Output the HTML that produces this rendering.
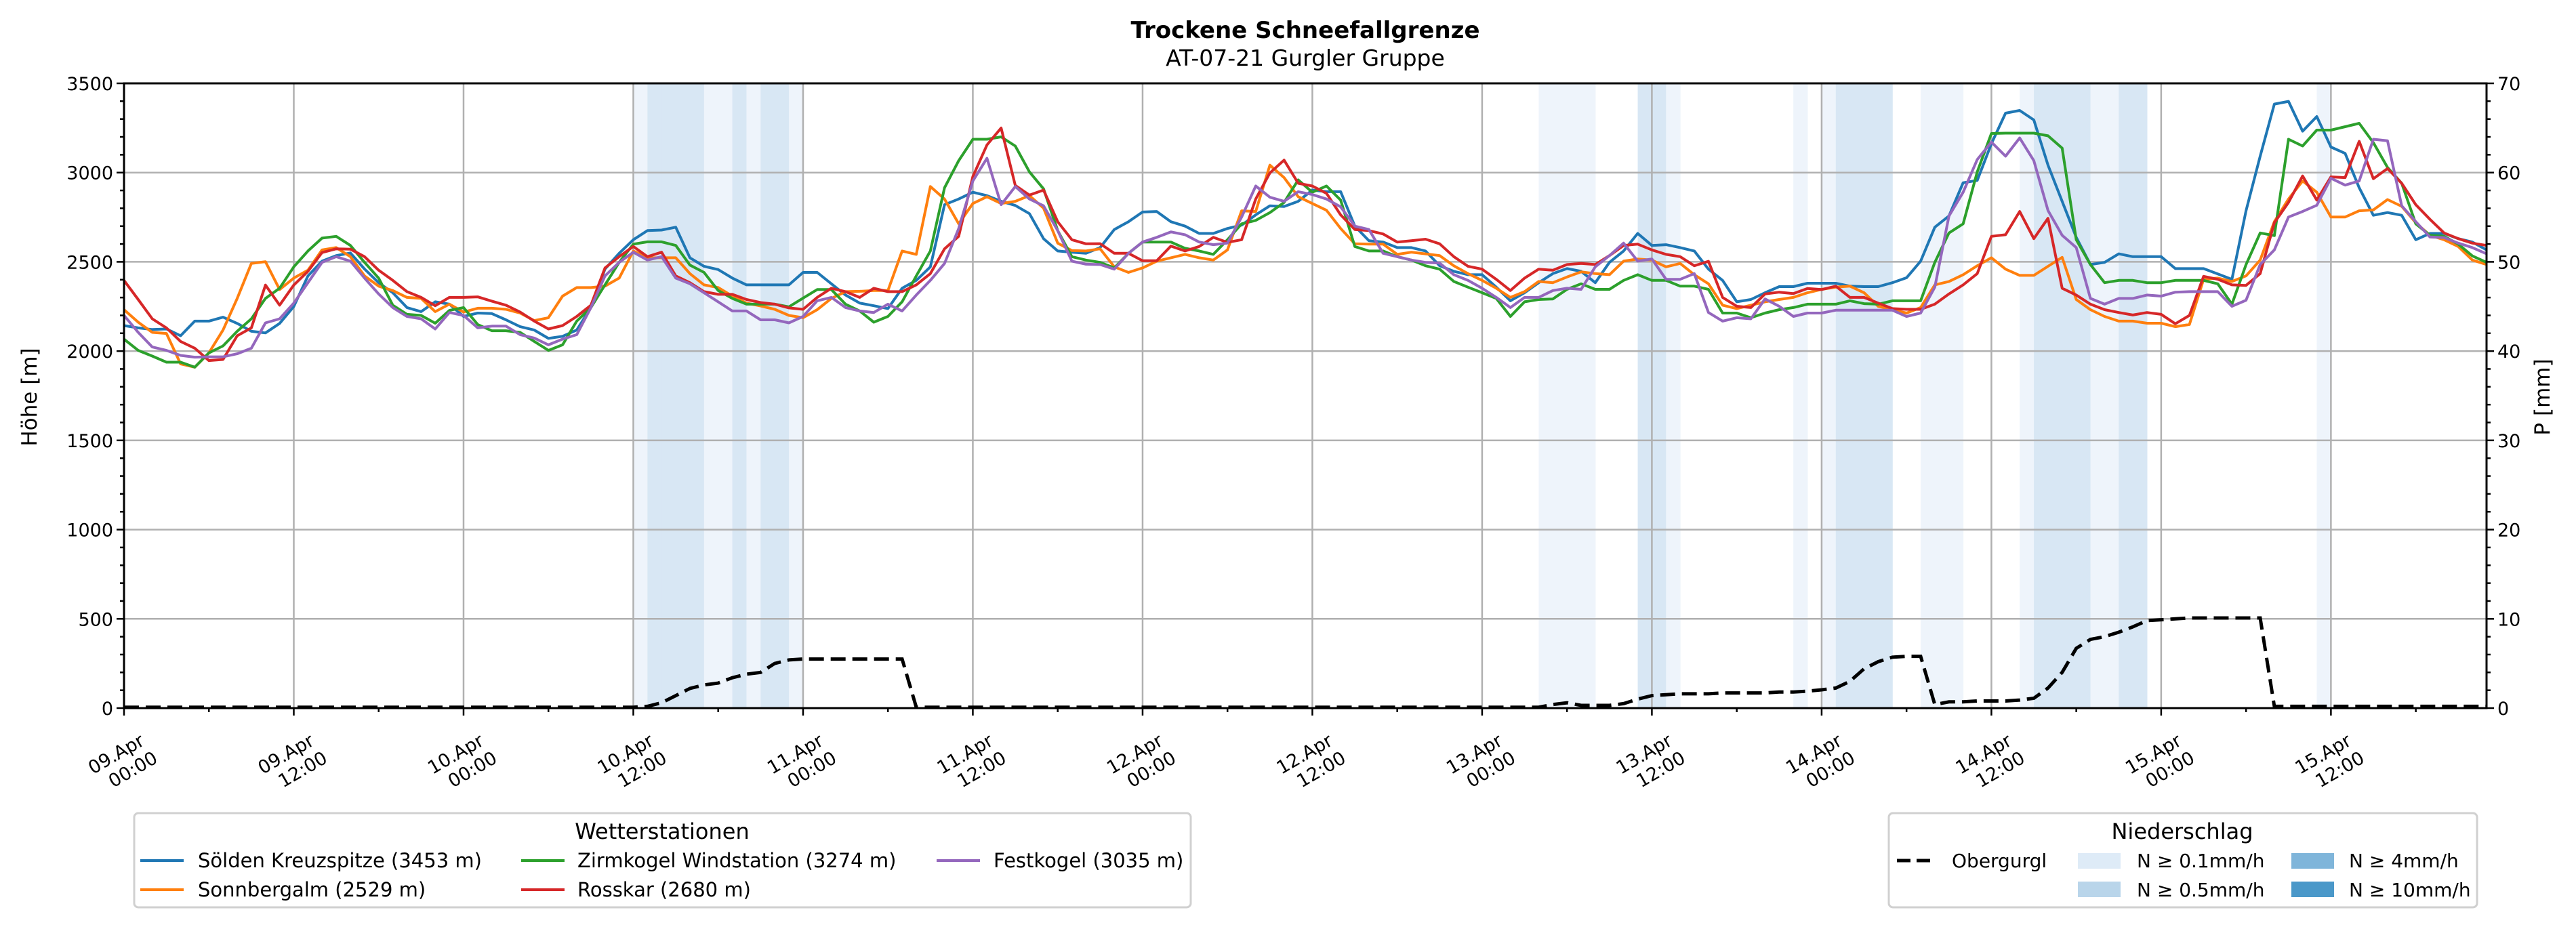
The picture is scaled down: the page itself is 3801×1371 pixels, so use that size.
<!DOCTYPE html>
<html><head><meta charset="utf-8">
<style>
html,body{margin:0;padding:0;background:#fff;}
svg{display:block;font-family:"DejaVu Sans","Liberation Sans",sans-serif;}
</style></head>
<body>
<svg id="chart" width="3801" height="1371" viewBox="0 0 3801 1371" xmlns="http://www.w3.org/2000/svg">
<rect width="3801" height="1371" fill="#fff"/>
<g id="bands"></g>
<g id="grid"></g>
<g id="series"></g>
<g id="axes"></g>
<text x="1926" y="56" font-size="34" font-weight="bold" text-anchor="middle">Trockene Schneefallgrenze</text>
<text x="1926" y="97" font-size="33" text-anchor="middle">AT-07-21 Gurgler Gruppe</text>
<text transform="translate(54,586) rotate(-90)" font-size="31" text-anchor="middle">Höhe [m]</text>
<text transform="translate(3762,586) rotate(-90)" font-size="31" text-anchor="middle">P [mm]</text>

<g>
<rect x="198" y="1200" width="1559" height="139" rx="6" fill="#fff" stroke="#d0d0d0" stroke-width="3"/>
<text x="977" y="1238" font-size="32" text-anchor="middle">Wetterstationen</text>
<g><line x1="207" y1="1270" x2="271" y2="1270" stroke="#1f77b4" stroke-width="4"/><text x="292" y="1280" font-size="29">Sölden Kreuzspitze (3453 m)</text></g>
<g><line x1="207" y1="1313" x2="271" y2="1313" stroke="#ff7f0e" stroke-width="4"/><text x="292" y="1323" font-size="29">Sonnbergalm (2529 m)</text></g>
<g><line x1="769" y1="1270" x2="833" y2="1270" stroke="#2ca02c" stroke-width="4"/><text x="852" y="1280" font-size="29">Zirmkogel Windstation (3274 m)</text></g>
<g><line x1="769" y1="1313" x2="833" y2="1313" stroke="#d62728" stroke-width="4"/><text x="852" y="1323" font-size="29">Rosskar (2680 m)</text></g>
<g><line x1="1382" y1="1270" x2="1446" y2="1270" stroke="#9467bd" stroke-width="4"/><text x="1466" y="1280" font-size="29">Festkogel (3035 m)</text></g>
</g>

<g>
<rect x="2787" y="1200" width="868" height="139" rx="6" fill="#fff" stroke="#d0d0d0" stroke-width="3"/>
<text x="3220" y="1238" font-size="32" text-anchor="middle">Niederschlag</text>
<g><line x1="2799" y1="1270" x2="2857" y2="1270" stroke="#000" stroke-width="5" stroke-dasharray="20,9"/><text x="2880" y="1280" font-size="28">Obergurgl</text></g>
<g><rect x="3066" y="1259" width="63" height="23" fill="#deebf7"/><text x="3153" y="1280" font-size="28">N ≥ 0.1mm/h</text></g>
<g><rect x="3066" y="1301" width="63" height="23" fill="#b9d5ea"/><text x="3153" y="1323" font-size="28">N ≥ 0.5mm/h</text></g>
<g><rect x="3381" y="1259" width="63" height="23" fill="#7fb5da"/><text x="3466" y="1280" font-size="28">N ≥ 4mm/h</text></g>
<g><rect x="3381" y="1301" width="63" height="23" fill="#4a98c9"/><text x="3466" y="1323" font-size="28">N ≥ 10mm/h</text></g>
</g>
</svg>
<script>
const soelden = [2143,2130,2121,2124,2086,2168,2168,2190,2155,2111,2102,2155,2250,2421,2504,2535,2550,2460,2383,2327,2244,2221,2276,2263,2194,2213,2210,2175,2137,
2118,2071,2083,2118,2244,2460,2548,2624,2675,2678,2694,2523,2475,2457,2409,2371,2371,2371,2371,2441,2441,2377,2314,2269,2254,2238,2352,2396,2472,
2820,2852,2890,2871,2839,2816,2770,2630,2561,2554,2548,2580,2681,2725,2779,2782,2725,2700,2659,2659,2687,2706,2763,2814,2810,2839,2902,2893,2893,
2700,2618,2611,2580,2580,2561,2478,2447,2428,2428,2358,2282,2327,2383,2434,2462,2447,2383,2497,2561,2659,2592,2596,2580,2561,2459,2396,2276,2289,
2327,2361,2361,2380,2380,2380,2364,2361,2361,2383,2411,2504,2694,2757,2943,2956,3162,3333,3348,3295,3042,2839,2637,2485,2497,2545,2529,2529,
2529,2462,2462,2462,2432,2402,2786,3092,3384,3399,3232,3314,3143,3108,2915,2761,2776,2761,2624,2659,2659,2630,2611,2567];
const sonnbergalm = [2232,2162,2105,2099,1928,1910,1990,2118,2295,2491,2501,2345,2409,2453,2567,2580,2529,2421,2364,2339,2301,2295,2221,2263,2219,2240,2240,2234,2213,
2171,2187,2308,2356,2356,2364,2409,2561,2523,2523,2523,2434,2371,2356,2308,2269,2253,2234,2200,2187,2232,2295,2333,2335,2339,2339,2561,2542,2922,
2852,2713,2827,2865,2827,2839,2871,2801,2605,2563,2561,2573,2472,2441,2466,2504,2523,2542,2523,2510,2567,2786,2782,3042,2972,2865,2827,2789,2687,
2601,2599,2599,2542,2554,2545,2535,2478,2434,2396,2352,2301,2333,2390,2383,2415,2444,2434,2428,2504,2516,2510,2472,2491,2428,2377,2257,2238,2257,
2276,2289,2301,2327,2346,2358,2364,2327,2251,2232,2213,2244,2371,2390,2428,2478,2523,2459,2424,2424,2475,2525,2289,2232,2194,2168,2168,2156,
2156,2137,2149,2402,2409,2390,2421,2510,2725,2852,2953,2890,2751,2751,2786,2791,2849,2811,2719,2649,2624,2586,2510,2485];
const zirmkogel = [2067,2004,1972,1938,1938,1910,1990,2029,2111,2181,2295,2352,2472,2561,2633,2643,2592,2497,2409,2257,2206,2200,2156,2228,2244,2149,2114,2114,2105,
2054,2004,2035,2168,2244,2371,2497,2599,2612,2612,2592,2482,2441,2339,2295,2263,2263,2263,2248,2297,2345,2345,2263,2225,2162,2194,2276,2421,2561,
2915,3067,3187,3187,3200,3149,3004,2909,2675,2529,2510,2497,2466,2548,2611,2611,2611,2576,2561,2542,2624,2713,2732,2776,2833,2959,2890,2925,2846,
2586,2561,2561,2529,2510,2478,2459,2390,2358,2327,2295,2194,2276,2289,2292,2346,2377,2346,2346,2396,2428,2396,2396,2364,2364,2346,2213,2213,2187,
2213,2232,2244,2263,2263,2263,2282,2266,2263,2282,2282,2282,2497,2662,2713,3004,3219,3221,3221,3221,3206,3137,2624,2485,2383,2396,2396,2383,
2383,2396,2396,2396,2377,2263,2484,2662,2647,3187,3149,3238,3238,3257,3276,3168,3029,2940,2713,2649,2643,2599,2533,2497];
const rosskar = [2396,2289,2181,2130,2054,2016,1947,1953,2086,2130,2370,2257,2370,2447,2552,2573,2571,2529,2453,2396,2333,2301,2254,2301,2301,2304,2280,2257,2219,
2168,2124,2143,2194,2257,2466,2529,2586,2529,2554,2421,2383,2333,2318,2318,2289,2272,2263,2242,2234,2301,2352,2333,2301,2352,2333,2333,2371,2434,
2573,2643,2978,3155,3250,2928,2874,2902,2725,2624,2601,2602,2548,2548,2506,2506,2588,2561,2586,2637,2609,2624,2852,2998,3070,2940,2925,2884,2763,
2681,2675,2656,2611,2618,2627,2601,2529,2475,2459,2402,2339,2409,2459,2453,2485,2491,2485,2535,2592,2599,2567,2542,2529,2478,2503,2301,2251,2244,
2320,2330,2322,2351,2345,2364,2301,2301,2269,2238,2234,2234,2263,2320,2371,2434,2643,2652,2782,2630,2744,2352,2314,2263,2232,2216,2202,2216,
2206,2153,2200,2419,2402,2371,2368,2434,2719,2833,2981,2846,2976,2972,3175,2966,3023,2940,2820,2738,2662,2630,2605,2592];
const festkogel = [2200,2105,2023,2004,1976,1966,1968,1968,1985,2016,2158,2181,2269,2383,2497,2529,2504,2409,2320,2244,2194,2181,2124,2216,2200,2130,2140,2140,2092,
2073,2035,2067,2092,2244,2421,2497,2554,2510,2529,2409,2377,2327,2276,2225,2225,2175,2175,2158,2194,2282,2301,2244,2225,2216,2263,2225,2314,2396,
2491,2687,2953,3080,2820,2922,2852,2814,2675,2504,2487,2485,2459,2548,2611,2637,2668,2652,2611,2596,2605,2751,2925,2862,2839,2893,2877,2852,2808,
2700,2681,2548,2529,2510,2497,2493,2428,2396,2352,2301,2244,2301,2301,2339,2352,2346,2472,2535,2605,2504,2516,2402,2402,2434,2216,2168,2187,2181,
2292,2251,2194,2213,2213,2229,2229,2229,2229,2229,2194,2213,2358,2757,2890,3073,3171,3092,3194,3067,2788,2649,2580,2295,2263,2295,2295,2314,
2308,2330,2333,2333,2333,2251,2285,2485,2567,2751,2782,2817,2968,2930,2953,3187,3178,2814,2725,2639,2636,2605,2580,2545];
const obergurgl = [0.1,0.1,0.1,0.1,0.1,0.1,0.1,0.1,0.1,0.1,0.1,0.1,0.1,0.1,0.1,0.1,0.1,0.1,0.1,0.1,0.1,0.1,0.1,0.1,0.1,0.1,0.1,0.1,0.1,0.1,0.1,0.1,0.1,0.1,0.1,0.1,
0.1,0.2,0.6,1.4,2.2,2.6,2.8,3.4,3.8,4.0,5.0,5.4,5.5,5.5,5.5,5.5,5.5,5.5,5.5,5.5,
0.1,0.1,0.1,0.1,0.1,0.1,0.1,0.1,0.1,0.1,0.1,0.1,0.1,0.1,0.1,0.1,0.1,0.1,0.1,0.1,0.1,0.1,0.1,0.1,0.1,0.1,0.1,0.1,0.1,0.1,0.1,0.1,0.1,0.1,0.1,0.1,0.1,0.1,0.1,0.1,0.1,0.1,0.1,0.1,
0.1,0.4,0.6,0.3,0.3,0.3,0.5,1.0,1.4,1.5,1.6,1.6,1.6,1.7,1.7,1.7,1.7,1.8,1.8,1.9,2.05,2.25,3.0,4.4,5.2,5.7,5.8,5.8,
0.4,0.7,0.7,0.8,0.8,0.8,0.9,1.1,2.25,4.0,6.7,7.7,8.0,8.5,9.1,9.8,9.9,10.0,10.1,10.1,10.1,10.1,10.1,10.1,
0.2,0.2,0.2,0.2,0.2,0.2,0.2,0.2,0.2,0.2,0.2,0.2,0.2,0.2,0.2,0.2];
const precipLevel = [0,0,0,0,0,0,0,0,0,0,0,0,0,0,0,0,0,0,0,0,0,0,0,0,0,0,0,0,0,0,0,0,0,0,0,0,
1,2,2,2,2,1,1,2,1,2,2,1,
0,0,0,0,0,0,0,0,0,0,0,0,0,0,0,0,0,0,0,0,0,0,0,0,0,0,0,0,0,0,0,0,0,0,0,0,0,0,0,0,0,0,0,0,0,0,0,0,0,0,0,0,
1,1,1,1,0,0,0,2,2,1,0,0,0,0,0,0,0,0,1,0,1,2,2,2,2,0,0,1,1,1,0,0,0,0,1,2,2,2,2,1,1,2,2,
0,0,0,0,0,0,0,0,0,0,0,0,1,0,0,0,0,0,0,0,0,0,0,0,0];
const xTickLabels = ["09.Apr|00:00","09.Apr|12:00","10.Apr|00:00","10.Apr|12:00","11.Apr|00:00","11.Apr|12:00","12.Apr|00:00","12.Apr|12:00","13.Apr|00:00","13.Apr|12:00","14.Apr|00:00","14.Apr|12:00","15.Apr|00:00","15.Apr|12:00"];
const yTicks = [0,500,1000,1500,2000,2500,3000,3500];
const y2Ticks = [0,10,20,30,40,50,60,70];

const NS="http://www.w3.org/2000/svg";
const L=183,R=3669,T=123,B=1045,HMAX=167;
const x=h=>L+(R-L)*h/HMAX;
const y=v=>B-(B-T)*v/3500;
const y2=v=>B-(B-T)*v/70;
function mk(tag,attrs,parent){const e=document.createElementNS(NS,tag);for(const k in attrs)e.setAttribute(k,attrs[k]);parent.appendChild(e);return e;}
const gB=document.getElementById('bands'),gG=document.getElementById('grid'),gS=document.getElementById('series'),gA=document.getElementById('axes');

const bandCol=[null,'#eef4fb','#d8e7f4'];
precipLevel.forEach((lv,h)=>{if(!lv)return;
  const r=mk('rect',{x:x(h),y:T,width:x(h+1)-x(h)+0.5,height:B-T,fill:bandCol[lv]},gB);
  
  
});
yTicks.forEach(v=>{const l=mk('line',{x1:L,x2:R,y1:y(v),y2:y(v),stroke:'#b0b0b0','stroke-width':2.5},gG);
  
  });
xTickLabels.forEach((s,i)=>{const l=mk('line',{x1:x(i*12),x2:x(i*12),y1:T,y2:B,stroke:'#b0b0b0','stroke-width':2.5},gG);
  
  });

const series=[[soelden,'#1f77b4','soelden-line'],[sonnbergalm,'#ff7f0e','sonnbergalm-line'],[zirmkogel,'#2ca02c','zirmkogel-line'],[rosskar,'#d62728','rosskar-line'],[festkogel,'#9467bd','festkogel-line']];
series.forEach(([d,c,n])=>{
  const p=mk('polyline',{points:d.map((v,h)=>x(h).toFixed(1)+','+y(v).toFixed(1)).join(' '),fill:'none',stroke:c,'stroke-width':4,'stroke-linejoin':'round'},gS);
  
  
});
const pl=mk('polyline',{points:obergurgl.map((v,h)=>x(h).toFixed(1)+','+y2(v).toFixed(1)).join(' '),fill:'none',stroke:'#000','stroke-width':5,'stroke-dasharray':'22,10'},gS);



const fr=mk('rect',{x:L,y:T,width:R-L,height:B-T,fill:'none',stroke:'#000','stroke-width':3},gA);


for(let v=0;v<=3500;v+=100){const maj=v%500===0,len=maj?11:6;
  mk('line',{x1:L-len,x2:L,y1:y(v),y2:y(v),stroke:'#000','stroke-width':2.5},gA);
  mk('line',{x1:R,x2:R+len,y1:y(v),y2:y(v),stroke:'#000','stroke-width':2.5},gA);}
yTicks.forEach(v=>{const t=mk('text',{x:L-16,y:y(v)+10,'font-size':27,'text-anchor':'end'},gA);t.textContent=v;
  
  });
y2Ticks.forEach(v=>{const t=mk('text',{x:R+16,y:y2(v)+10,'font-size':27,'text-anchor':'start'},gA);t.textContent=v;
  
  });
for(let h=0;h<=HMAX;h+=6){const maj=h%12===0;mk('line',{x1:x(h),x2:x(h),y1:B,y2:B+(maj?11:6),stroke:'#000','stroke-width':2.5},gA);}
xTickLabels.forEach((s,i)=>{const [a,b]=s.split('|');const cx=x(i*12)-4,cy=1126;
  const t=mk('text',{transform:`translate(${cx},${cy}) rotate(-30)`,'font-size':27,'text-anchor':'middle'},gA);
  
  
  const s1=mk('tspan',{x:0,y:-6},t);s1.textContent=a;
  const s2=mk('tspan',{x:10,y:26},t);s2.textContent=b;});
</script>
</body></html>
